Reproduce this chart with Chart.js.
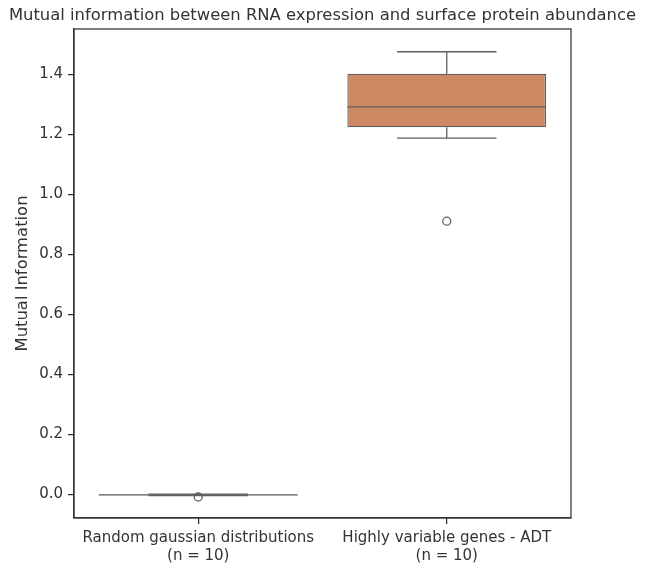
<!DOCTYPE html>
<html>
<head>
<meta charset="utf-8">
<script src="https://cdn.jsdelivr.net/npm/chart.js@4/dist/chart.umd.min.js"></script>
<style>
  html, body { margin: 0; padding: 0; background: #fff; }
  canvas { display: block; }
</style>
</head>
<body>
<canvas id="mi-box" width="645" height="573"></canvas>
<script>
// box summaries
const groups = ['Random gaussian distributions', 'Highly variable genes - ADT'];
const counts = [10, 10];
const whiskerLow = [-0.0045, 1.188];
const q1 = [-0.0035, 1.224];
const median = [-0.002, 1.292];
const q3 = [-0.0005, 1.403];
const whiskerHigh = [0.0005, 1.476];
const outliers = [[-0.009], [0.911]];
const boxColors = ['#5975a4', '#cc8963'];
const yTicks = [0, 0.2, 0.4, 0.6, 0.8, 1.0, 1.2, 1.4];
const yMin = -0.079, yMax = 1.552;

const lineColor = '#5f5f5f';
const axisColor = '#333333';
const textColor = '#333333';

Chart.defaults.font.family = 'DejaVu Sans';
Chart.defaults.color = textColor;

// whiskers, caps and medians as short line segments
const segments = [];
groups.forEach((g, i) => {
  const seg = pts => segments.push({
    type: 'line', data: pts, borderColor: lineColor, borderWidth: 1.3,
    pointRadius: 0, fill: false, order: 1
  });
  seg([{x: i, y: q1[i]}, {x: i, y: whiskerLow[i]}]);
  seg([{x: i, y: q3[i]}, {x: i, y: whiskerHigh[i]}]);
  seg([{x: i - 0.2, y: whiskerLow[i]}, {x: i + 0.2, y: whiskerLow[i]}]);
  seg([{x: i - 0.2, y: whiskerHigh[i]}, {x: i + 0.2, y: whiskerHigh[i]}]);
  seg([{x: i - 0.4, y: median[i]}, {x: i + 0.4, y: median[i]}]);
});

const fliers = [];
outliers.forEach((arr, i) => arr.forEach(v => fliers.push({x: i, y: v})));

// plot frame on all four sides
const frame = {
  id: 'frame',
  afterDraw(chart) {
    const {ctx, chartArea: a} = chart;
    ctx.save();
    ctx.strokeStyle = axisColor;
    ctx.lineWidth = 1.25;
    ctx.strokeRect(a.left, a.top, a.right - a.left, a.bottom - a.top);
    ctx.restore();
  }
};

new Chart(document.getElementById('mi-box'), {
  type: 'bar',
  data: {
    datasets: [
      {
        type: 'bar',
        data: groups.map((g, i) => ({x: i, y: [q1[i], q3[i]]})),
        backgroundColor: boxColors,
        borderColor: lineColor,
        borderWidth: 1.3,
        borderSkipped: false,
        barPercentage: 0.8,
        categoryPercentage: 1,
        order: 3
      },
      ...segments,
      {
        type: 'scatter',
        data: fliers,
        pointRadius: 4,
        pointBorderWidth: 1.3,
        pointBorderColor: lineColor,
        pointBackgroundColor: 'rgba(0,0,0,0)',
        order: 0
      }
    ]
  },
  options: {
    responsive: false,
    animation: false,
    plugins: {
      legend: { display: false },
      tooltip: { enabled: false },
      title: {
        display: true,
        text: 'Mutual information between RNA expression and surface protein abundance',
        font: { size: 16.4, weight: 'normal', lineHeight: 1.2 },
        color: textColor,
        padding: { top: 6, bottom: 3.3 }
      }
    },
    scales: {
      x: {
        type: 'linear',
        min: -0.5, max: 1.5,
        offset: false,
        afterBuildTicks: s => { s.ticks = groups.map((g, i) => ({value: i})); },
        afterFit: s => { s.height = 55; },
        ticks: {
          font: { size: 15, lineHeight: 1.2 },
          color: textColor,
          padding: 5,
          maxRotation: 0,
          callback: v => [groups[v], '(n = ' + counts[v] + ')']
        },
        grid: {
          display: true, drawOnChartArea: false, drawTicks: true,
          tickLength: 6, color: axisColor, lineWidth: 1.25, offset: false
        },
        border: { display: true, color: axisColor, width: 1.25 }
      },
      y: {
        type: 'linear',
        min: yMin, max: yMax,
        afterBuildTicks: s => { s.ticks = yTicks.map(v => ({value: v})); },
        afterFit: s => { s.width = 74; },
        ticks: {
          font: { size: 15 },
          color: textColor,
          padding: 5,
          callback: v => v.toFixed(1)
        },
        grid: {
          display: true, drawOnChartArea: false, drawTicks: true,
          tickLength: 6, color: axisColor, lineWidth: 1.25
        },
        border: { display: true, color: axisColor, width: 1.25 },
        title: {
          display: true,
          text: 'Mutual Information',
          font: { size: 16.4, lineHeight: 1.2 },
          color: textColor,
          padding: { top: 13, bottom: 0 }
        }
      },
      // empty right-hand strip so the title keeps full width
      yRight: {
        type: 'linear',
        position: 'right',
        min: yMin, max: yMax,
        afterFit: s => { s.width = 74; },
        ticks: { display: false },
        grid: { display: false },
        border: { display: false }
      }
    }
  },
  plugins: [frame]
});
</script>
</body>
</html>
